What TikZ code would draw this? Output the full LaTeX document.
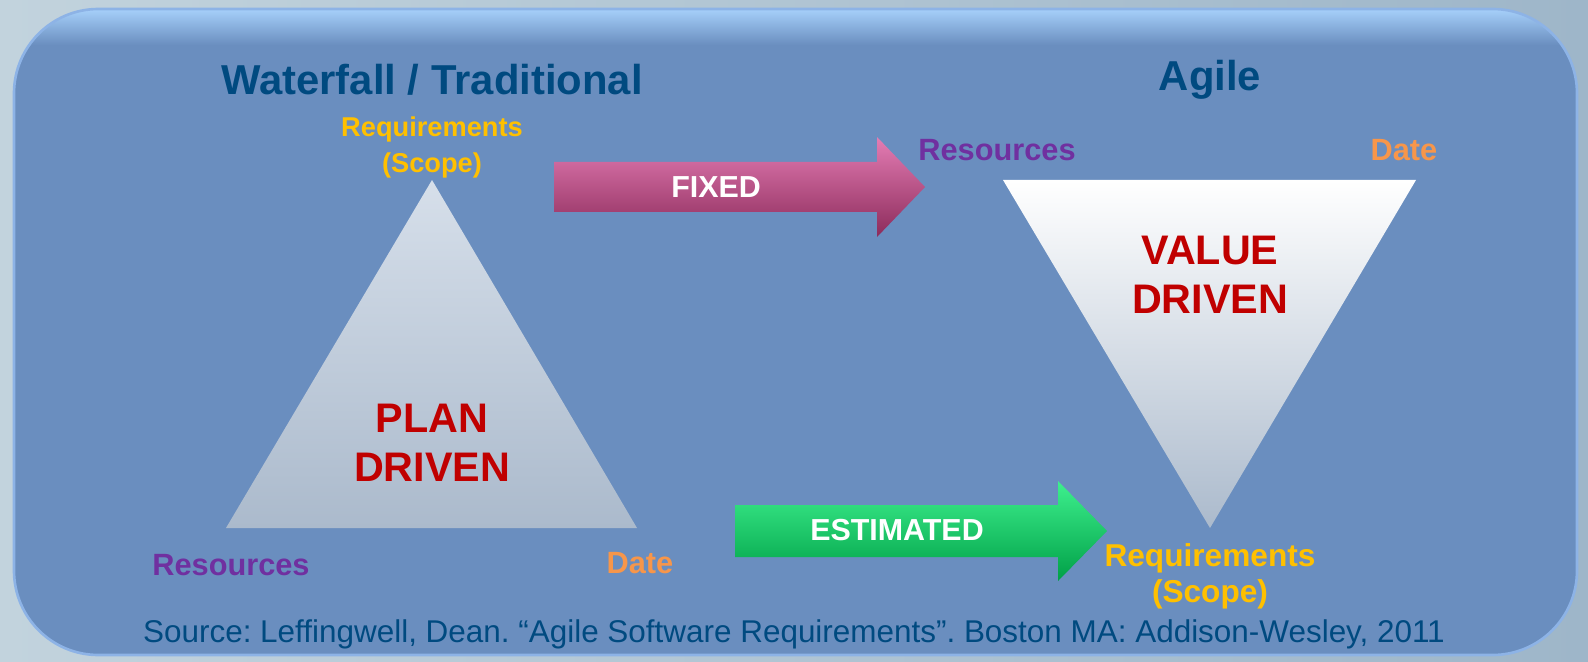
\documentclass[tikz,border=0pt]{standalone}
\usepackage{fontspec}
\setmainfont{Liberation Sans}
\usetikzlibrary{positioning}
\frenchspacing

\definecolor{bgleft}{HTML}{C2D3DD}
\definecolor{bgright}{HTML}{9EB6C9}
\definecolor{panelblue}{HTML}{6A8EBF}
\definecolor{panelrim}{HTML}{8DB3E6}
\definecolor{panelglow}{HTML}{A6D0FA}
\definecolor{titleblue}{HTML}{004A80}
\definecolor{reqyellow}{HTML}{FFC000}
\definecolor{respurple}{HTML}{7030A0}
\definecolor{dateorange}{HTML}{F7964A}
\definecolor{drivenred}{HTML}{C00000}
\definecolor{trilight}{HTML}{D6DFEA}
\definecolor{tridark}{HTML}{ABBACC}
\definecolor{fixedtop}{HTML}{E47DB4}
\definecolor{fixedmid}{HTML}{9E3367}
\definecolor{fixedbot}{HTML}{8C2B5B}
\definecolor{esttop}{HTML}{3EF08E}
\definecolor{estmid}{HTML}{00B050}
\definecolor{estbot}{HTML}{00A047}

\begin{document}
\begin{tikzpicture}[
    x=0.02cm, y=-0.02cm,
    title/.style={font=\bfseries\fontsize{23.8}{28}\selectfont, text=titleblue, inner sep=0pt},
    corner/.style={font=\bfseries\fontsize{17.5}{20.5}\selectfont, align=center, inner sep=0pt},
    driven/.style={font=\bfseries\fontsize{23.5}{28}\selectfont, text=drivenred, align=center, inner sep=0pt},
    arrowtext/.style={font=\bfseries\fontsize{17.3}{20}\selectfont, text=white, inner sep=0pt},
    fixedarrow/.style={top color=fixedtop, middle color=fixedmid, bottom color=fixedbot},
    estarrow/.style={top color=esttop, middle color=estmid, bottom color=estbot}
]
    % background and panel
    \useasboundingbox (0,0) rectangle (1588,662);
    \shade[left color=bgleft, right color=bgright] (0,0) rectangle (1588,662);
    \fill[panelblue, rounded corners=48pt] (14,9) rectangle (1577,655);
    \begin{scope}
        \clip[rounded corners=48pt] (14,9) rectangle (1577,655);
        \shade[top color=panelglow, bottom color=panelblue] (14,9) rectangle (1577,45);
    \end{scope}
    \draw[panelrim, line width=1.5pt, rounded corners=48pt] (14,9) rectangle (1577,655);

    % triangles
    \shade[top color=trilight, bottom color=tridark] (432,180) -- (637,528) -- (226,528) -- cycle;
    \shade[top color=white, bottom color=tridark] (1003,180) -- (1416,180) -- (1210,528) -- cycle;

    % block arrows
    \shade[fixedarrow] (554,162) -- (877,162) -- (877,137) -- (925,187) -- (877,237) -- (877,212) -- (554,212) -- cycle;
    \shade[estarrow] (735,505) -- (1058,505) -- (1058,481) -- (1107,531) -- (1058,581) -- (1058,557) -- (735,557) -- cycle;
    \node[arrowtext] (fixed) at (716,187) {FIXED};
    \node[arrowtext] (estimated) at (897,530) {ESTIMATED};

    % waterfall side
    \node[title] (waterfall) at (432,80) {Waterfall / Traditional};
    \node[corner, font=\bfseries\fontsize{15.5}{20.5}\selectfont, text=reqyellow] (wfreq) at (432,147) {Requirements\\(Scope)};
    \node[corner, text=respurple] (wfres) at (231,565) {Resources};
    \node[corner, text=dateorange] (wfdate) at (640,563) {Date};
    \node[driven] (plan) at (432,443) {PLAN\\DRIVEN};

    % agile side
    \node[title] (agile) at (1210,80) {Agile};
    \node[corner, text=respurple] (agres) at (997,150) {Resources};
    \node[corner, text=dateorange] (agdate) at (1404,150) {Date};
    \node[driven] (value) at (1210,275) {VALUE\\DRIVEN};
    \node[corner, font=\bfseries\fontsize{18}{20.5}\selectfont, text=reqyellow] (agreq) at (1210,576) {Requirements\\(Scope)};

    % source
    \node[font=\fontsize{17.9}{20}\selectfont, text=titleblue, inner sep=0pt] (source) at (794,634)
        {Source: Leffingwell, Dean. “Agile Software Requirements”. Boston MA: Addison-Wesley, 2011};
\end{tikzpicture}
\end{document}
